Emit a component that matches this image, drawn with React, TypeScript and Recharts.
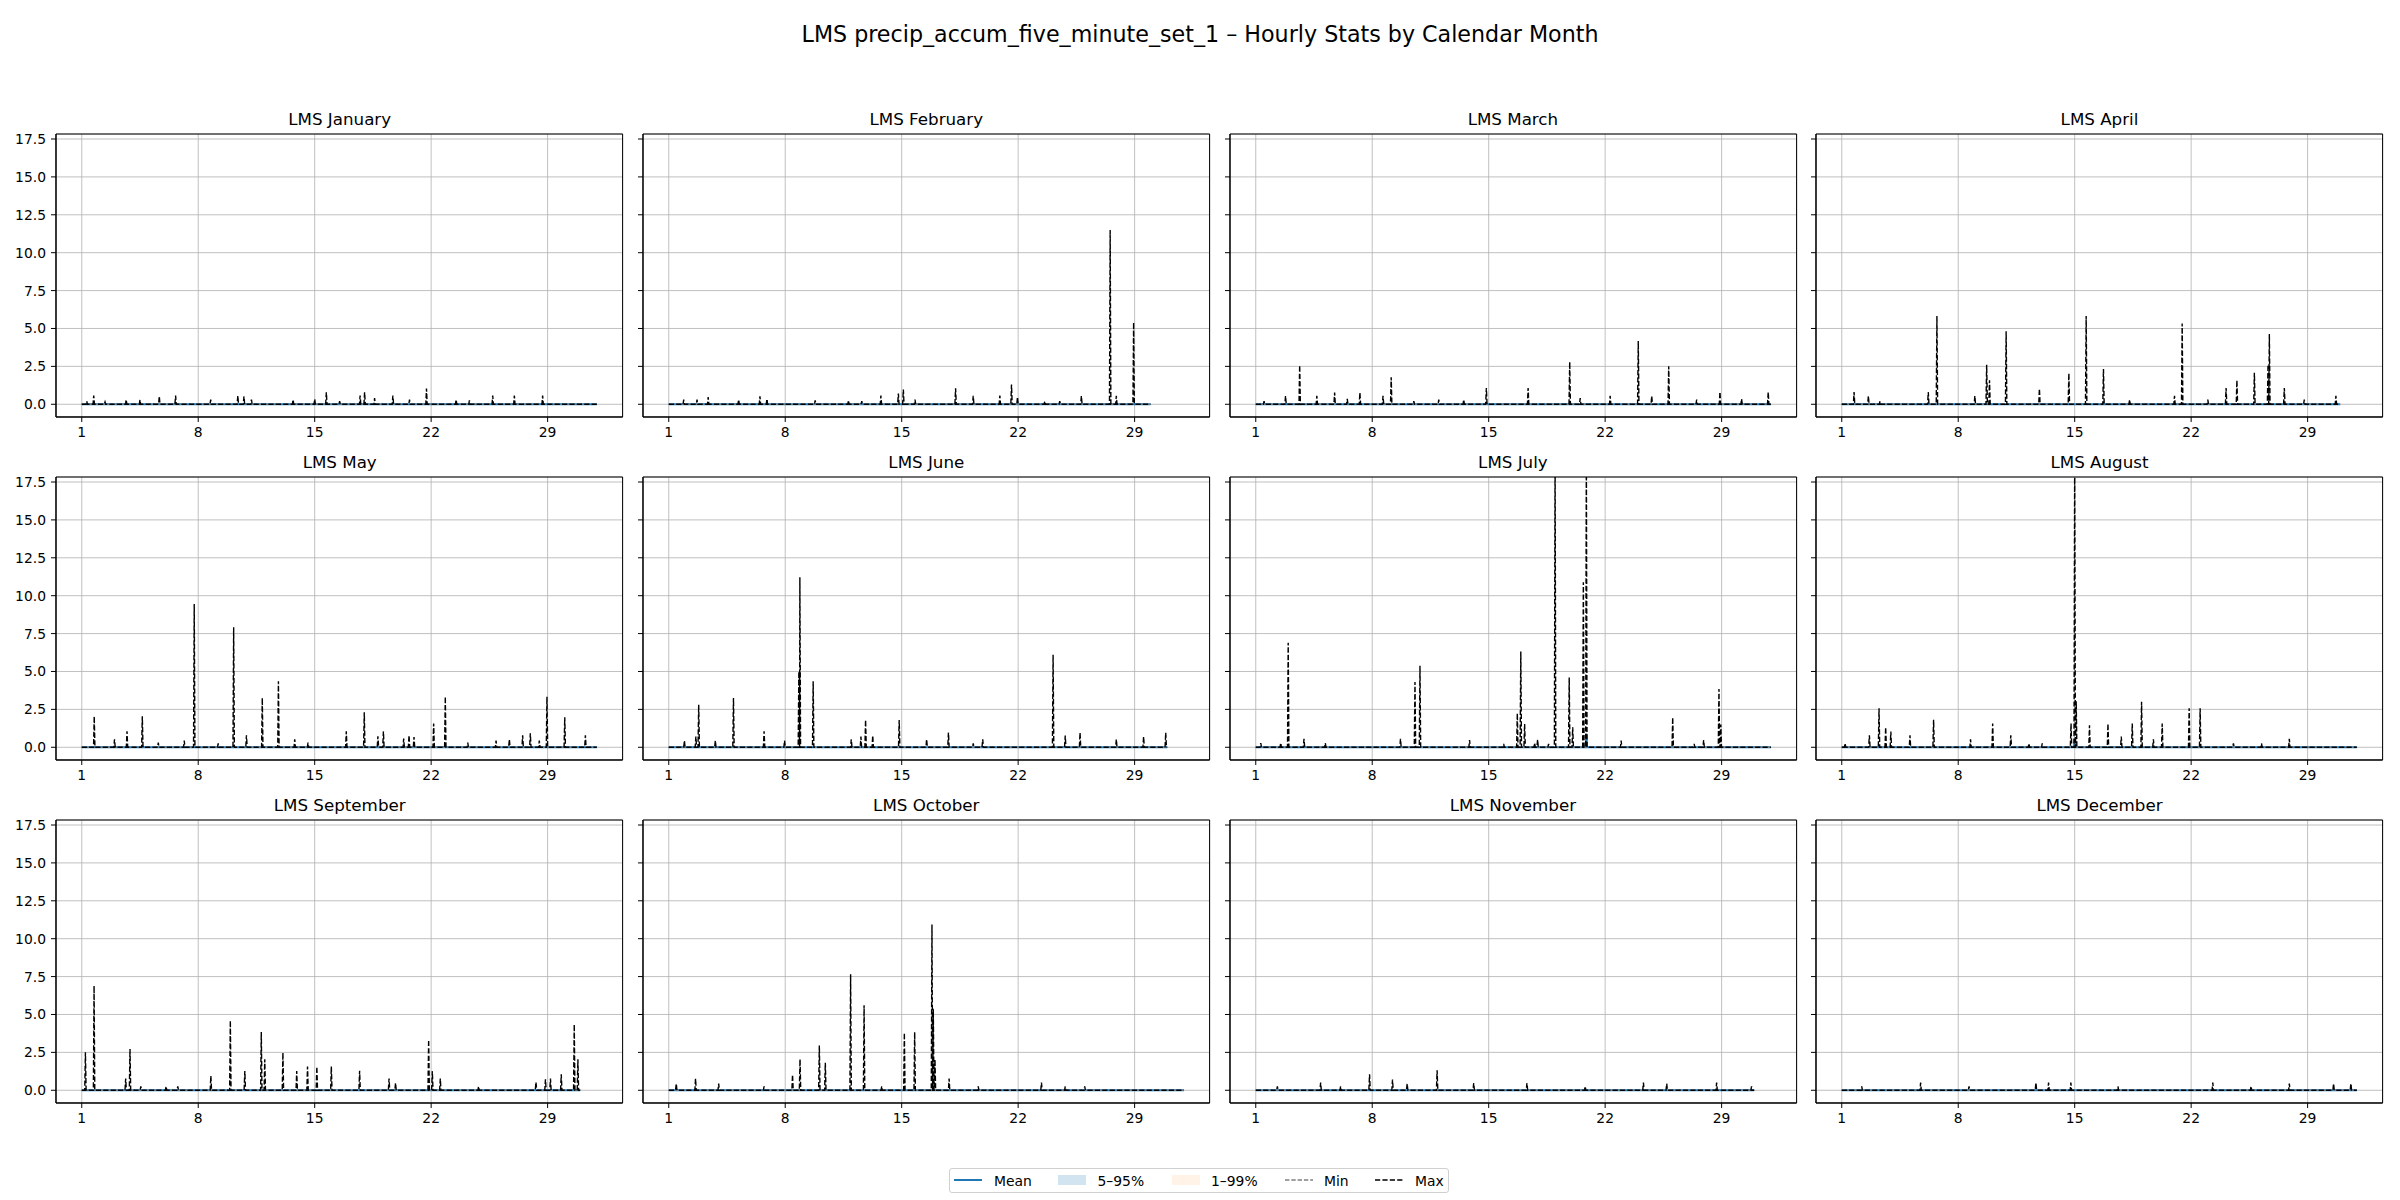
import React from 'react';
import { LineChart, Line, XAxis, YAxis, CartesianGrid, ReferenceArea } from 'recharts';

const monthNames = [
  'January', 'February', 'March', 'April', 'May', 'June',
  'July', 'August', 'September', 'October', 'November', 'December',
];
const monthDays = [31, 29, 31, 30, 31, 30, 31, 31, 30, 31, 30, 31];
const dayTicks = [1, 8, 15, 22, 29];
const valueTicks = [0, 2.5, 5, 7.5, 10, 12.5, 15, 17.5];

// hourly max peaks, [day + hour/24, value]; everything else sits at 0
const janMax = [[1.3, 0.2], [1.72, 0.57], [2.4, 0.15], [3.67, 0.3], [4.5, 0.3], [5.66, 0.53], [6.64, 0.57], [8.75, 0.3], [10.38, 0.57], [10.75, 0.53], [11.2, 0.3], [13.7, 0.3], [15.0, 0.35], [15.7, 0.79], [16.5, 0.2], [17.73, 0.57], [18.0, 0.79], [18.6, 0.4], [19.7, 0.57], [20.7, 0.3], [21.72, 1.03], [23.5, 0.3], [24.3, 0.25], [25.7, 0.57], [27.0, 0.57], [28.7, 0.57]];
const febMax = [[1.9, 0.3], [2.7, 0.3], [3.37, 0.48], [5.2, 0.3], [6.48, 0.53], [6.9, 0.35], [9.8, 0.26], [11.8, 0.26], [12.6, 0.2], [13.75, 0.57], [14.8, 0.7], [15.1, 0.97], [15.8, 0.3], [18.24, 1.05], [19.3, 0.55], [20.9, 0.57], [21.6, 1.3], [21.96, 0.48], [23.6, 0.2], [24.5, 0.2], [25.8, 0.55], [27.53, 11.5], [27.9, 0.55], [28.94, 5.4]];
const marMax = [[1.5, 0.2], [2.79, 0.55], [3.64, 2.57], [4.67, 0.55], [5.74, 0.77], [6.5, 0.35], [7.26, 0.77], [8.65, 0.55], [9.14, 1.78], [10.5, 0.2], [12.0, 0.3], [13.5, 0.3], [14.86, 1.07], [17.37, 1.07], [19.87, 2.79], [20.5, 0.4], [22.3, 0.55], [23.99, 4.17], [24.8, 0.55], [25.82, 2.5], [27.5, 0.3], [28.9, 0.81], [30.2, 0.35], [31.8, 0.81]];
const aprMax = [[1.74, 0.81], [2.6, 0.55], [3.3, 0.2], [6.2, 0.81], [6.72, 5.83], [9.0, 0.55], [9.71, 2.61], [9.88, 1.58], [10.88, 4.82], [12.88, 1.03], [14.65, 2.04], [15.69, 5.83], [16.73, 2.32], [18.3, 0.3], [21.0, 0.55], [21.46, 5.33], [23.0, 0.3], [24.1, 1.07], [24.75, 1.58], [25.8, 2.08], [26.62, 2.61], [26.7, 4.63], [27.6, 1.07], [28.8, 0.3], [30.7, 0.55]];
const mayMax = [[1.75, 2.04], [2.97, 0.53], [3.72, 1.05], [4.64, 2.04], [5.6, 0.3], [7.16, 0.44], [7.76, 9.45], [9.2, 0.25], [10.13, 7.91], [10.9, 0.79], [11.85, 3.25], [12.82, 4.35], [13.8, 0.53], [14.6, 0.3], [16.9, 1.05], [17.98, 2.31], [18.8, 0.73], [19.13, 1.05], [20.35, 0.57], [20.67, 0.79], [20.97, 0.68], [22.15, 1.56], [22.85, 3.34], [24.2, 0.3], [25.9, 0.44], [26.7, 0.53], [27.5, 0.79], [27.96, 0.92], [28.5, 0.44], [28.96, 3.34], [30.03, 1.98], [31.27, 0.79]];
const junMax = [[1.94, 0.44], [2.63, 0.7], [2.8, 2.81], [3.8, 0.44], [4.89, 3.25], [6.73, 1.06], [7.96, 0.44], [8.82, 5.0], [8.88, 11.21], [9.68, 4.35], [11.97, 0.53], [12.55, 0.7], [12.83, 1.8], [13.26, 0.77], [14.85, 1.8], [16.5, 0.53], [17.81, 0.97], [19.3, 0.26], [19.87, 0.53], [24.1, 6.11], [24.83, 0.77], [25.72, 0.97], [27.9, 0.53], [29.54, 0.7], [30.87, 0.97]];
const julMax = [[1.3, 0.28], [2.5, 0.28], [2.95, 6.9], [3.9, 0.55], [5.18, 0.28], [9.7, 0.55], [10.57, 4.3], [10.87, 5.37], [13.85, 0.48], [15.9, 0.22], [16.72, 2.24], [16.93, 6.32], [17.16, 1.54], [17.76, 0.28], [17.94, 0.5], [18.6, 0.22], [18.99, 19.5], [19.84, 4.6], [20.05, 1.32], [20.69, 10.88], [20.87, 19.5], [22.96, 0.44], [26.06, 1.97], [27.35, 0.22], [27.92, 0.48], [28.84, 3.84], [28.95, 1.5]];
const augMax = [[1.2, 0.26], [2.66, 0.79], [3.24, 2.57], [3.64, 1.32], [3.95, 1.03], [5.1, 0.79], [6.52, 1.82], [8.74, 0.53], [10.07, 1.56], [11.16, 0.79], [12.25, 0.26], [13.05, 0.26], [14.78, 1.56], [15.0, 19.5], [15.09, 3.03], [15.89, 1.45], [17.0, 1.56], [17.8, 0.7], [18.46, 1.56], [19.02, 3.01], [19.73, 0.53], [20.26, 1.56], [21.88, 2.57], [22.54, 2.57], [24.54, 0.26], [26.23, 0.26], [27.9, 0.55]];
const sepMax = [[1.22, 2.5], [1.74, 6.89], [3.64, 0.77], [3.9, 2.72], [4.55, 0.26], [6.07, 0.26], [6.77, 0.26], [8.76, 0.94], [9.93, 4.6], [10.8, 1.27], [11.79, 3.84], [12.0, 2.04], [13.09, 2.48], [13.92, 1.27], [14.57, 1.56], [15.13, 1.56], [16.0, 1.56], [17.7, 1.29], [19.47, 0.77], [19.86, 0.48], [21.85, 3.33], [22.07, 1.27], [22.55, 0.77], [24.85, 0.26], [28.3, 0.53], [28.87, 0.72], [29.17, 0.77], [29.82, 1.05], [30.6, 4.34], [30.82, 2.04]];
const octMax = [[1.45, 0.44], [2.61, 0.77], [4.0, 0.44], [6.73, 0.26], [8.44, 1.03], [8.89, 2.04], [10.05, 2.96], [10.41, 1.82], [11.93, 7.65], [12.74, 5.61], [13.8, 0.26], [15.16, 3.79], [15.78, 3.84], [16.82, 10.94], [16.9, 5.37], [17.0, 2.04], [17.85, 0.77], [19.6, 0.26], [23.4, 0.5], [24.83, 0.26], [26.0, 0.26]];
const novMax = [[2.3, 0.26], [4.9, 0.5], [6.1, 0.26], [7.84, 1.05], [9.22, 0.7], [10.1, 0.44], [11.9, 1.32], [14.1, 0.48], [17.3, 0.48], [20.8, 0.26], [24.3, 0.5], [25.7, 0.44], [28.7, 0.5], [30.8, 0.26]];
const decMax = [[2.2, 0.26], [5.74, 0.5], [8.65, 0.26], [12.67, 0.5], [13.43, 0.5], [14.77, 0.5], [17.6, 0.26], [23.3, 0.5], [25.6, 0.26], [27.9, 0.44], [30.56, 0.44], [31.6, 0.44]];

// hourly mean, flat near 0 apart from these
const julMean = [[20.87, 0.9]];
const augMean = [[15.0, 0.55]];

const maxByMonth = [janMax, febMax, marMax, aprMax, mayMax, junMax, julMax, augMax, sepMax, octMax, novMax, decMax];
const meanByMonth = [[], [], [], [], [], [], julMean, augMean, [], [], [], []];

const X_MIN = -0.548;
const X_MAX = 33.506;
const Y_MIN = -0.84;
const Y_MAX = 17.83;
const HOUR = 1 / 24;

const PLOT_W = 566.6;
const PLOT_H = 283;
const colLeft = [56.4, 643, 1229.6, 1816.2];
const rowTop = [133.5, 476.5, 819.5];
const Y_AXIS_W = 50;
const X_AXIS_H = 30;

const FONT = '"DejaVu Sans", sans-serif';

type Pt = { x: number; v: number };

function hourly(peaks: number[][], days: number): Pt[] {
  const pts: Pt[] = [{ x: 1, v: 0 }, { x: days + 23 / 24, v: 0 }];
  peaks.forEach(([x, v]) => {
    pts.push({ x: x - HOUR, v: 0 }, { x, v }, { x: x + HOUR, v: 0 });
  });
  return pts.sort((a, b) => a.x - b.x);
}

const Panel: React.FC<{ idx: number }> = ({ idx }) => {
  const col = idx % 4;
  const row = Math.floor(idx / 4);
  const days = monthDays[idx];
  const maxData = hourly(maxByMonth[idx], days);
  const meanData = hourly(meanByMonth[idx], days);
  const minData = hourly([], days);
  const left = colLeft[col];
  const top = rowTop[row];

  return (
    <>
      <div
        style={{
          position: 'absolute',
          left,
          width: PLOT_W,
          top: top - 22.4,
          textAlign: 'center',
          fontFamily: FONT,
          fontSize: 16.7,
          lineHeight: 1,
          color: '#000',
        }}
      >
        LMS {monthNames[idx]}
      </div>
      <div style={{ position: 'absolute', left: left - Y_AXIS_W, top: top - 2 }}>
        <LineChart
          width={PLOT_W + Y_AXIS_W + 2}
          height={PLOT_H + X_AXIS_H + 2}
          margin={{ top: 2, right: 2, left: 0, bottom: 0 }}
        >
          <CartesianGrid stroke="#b0b0b0" strokeWidth={0.8} />
          <XAxis
            dataKey="x"
            type="number"
            domain={[X_MIN, X_MAX]}
            ticks={dayTicks}
            allowDataOverflow
            interval={0}
            height={X_AXIS_H}
            axisLine={{ stroke: '#000' }}
            tickLine={{ stroke: '#000' }}
            tickSize={5}
            tickMargin={5}
            tick={{ fill: '#000', fontSize: 13.9, fontFamily: FONT }}
          />
          <YAxis
            type="number"
            domain={[Y_MIN, Y_MAX]}
            ticks={valueTicks}
            allowDataOverflow
            interval={0}
            width={Y_AXIS_W}
            axisLine={{ stroke: '#000' }}
            tickLine={{ stroke: '#000' }}
            tickSize={5}
            tickMargin={5}
            tickFormatter={(v: number) => (col === 0 ? v.toFixed(1) : '')}
            tick={{ fill: '#000', fontSize: 13.9, fontFamily: FONT }}
          />
          <Line
            data={meanData}
            dataKey="v"
            type="linear"
            stroke="#1f77b4"
            strokeWidth={2}
            dot={false}
            activeDot={false}
            isAnimationActive={false}
          />
          <Line
            data={minData}
            dataKey="v"
            type="linear"
            stroke="#808080"
            strokeWidth={1.2}
            strokeDasharray="4.4 1.9"
            dot={false}
            activeDot={false}
            isAnimationActive={false}
          />
          <Line
            data={maxData}
            dataKey="v"
            type="linear"
            stroke="#000"
            strokeWidth={1.4}
            strokeDasharray="5.2 2.2"
            dot={false}
            activeDot={false}
            isAnimationActive={false}
          />
          <ReferenceArea
            x1={X_MIN}
            x2={X_MAX}
            y1={Y_MIN}
            y2={Y_MAX}
            fill="none"
            stroke="#000"
            strokeWidth={1}
            ifOverflow="visible"
          />
        </LineChart>
      </div>
    </>
  );
};

// legend entries: handle x and label x inside the legend box
const legendItems = [
  { label: 'Mean', hx: 5, tx: 45, kind: 'line', color: '#1f77b4', dash: '' },
  { label: '5–95%', hx: 109, tx: 148.5, kind: 'rect', color: 'rgba(31,119,180,0.2)', dash: '' },
  { label: '1–99%', hx: 223, tx: 262, kind: 'rect', color: 'rgba(255,127,14,0.1)', dash: '' },
  { label: 'Min', hx: 336, tx: 375, kind: 'line', color: '#808080', dash: '4.4 1.9' },
  { label: 'Max', hx: 426, tx: 466, kind: 'line', color: '#000', dash: '5.2 2.2' },
];

export default function App() {
  return (
    <div
      style={{
        position: 'absolute',
        left: 0,
        top: 0,
        width: 2400,
        height: 1200,
        background: '#fff',
        fontFamily: FONT,
      }}
    >
      <div
        style={{
          position: 'absolute',
          left: 0,
          width: 2400,
          top: 22.9,
          textAlign: 'center',
          fontSize: 22.2,
          lineHeight: 1,
          color: '#000',
          whiteSpace: 'nowrap',
        }}
      >
        LMS precip_accum_five_minute_set_1 – Hourly Stats by Calendar Month
      </div>
      {monthNames.map((_, i) => (
        <Panel key={i} idx={i} />
      ))}
      <div
        style={{
          position: 'absolute',
          left: 949,
          top: 1168,
          width: 500,
          height: 25,
          boxSizing: 'border-box',
          border: '1px solid #d0d0d0',
          borderRadius: 3,
          fontSize: 13.9,
          color: '#000',
        }}
      >
        {legendItems.map((it) => (
          <React.Fragment key={it.label}>
            <svg
              width={28}
              height={12}
              style={{ position: 'absolute', left: it.hx - 1, top: 5 }}
            >
              {it.kind === 'line' ? (
                <line
                  x1={0}
                  y1={6}
                  x2={28}
                  y2={6}
                  stroke={it.color}
                  strokeWidth={it.dash ? 1.3 : 2}
                  strokeDasharray={it.dash || undefined}
                />
              ) : (
                <rect x={0} y={1} width={28} height={10} fill={it.color} />
              )}
            </svg>
            <span
              style={{
                position: 'absolute',
                left: it.tx - 1,
                top: 3.5,
                lineHeight: '16px',
                whiteSpace: 'nowrap',
              }}
            >
              {it.label}
            </span>
          </React.Fragment>
        ))}
      </div>
    </div>
  );
}
